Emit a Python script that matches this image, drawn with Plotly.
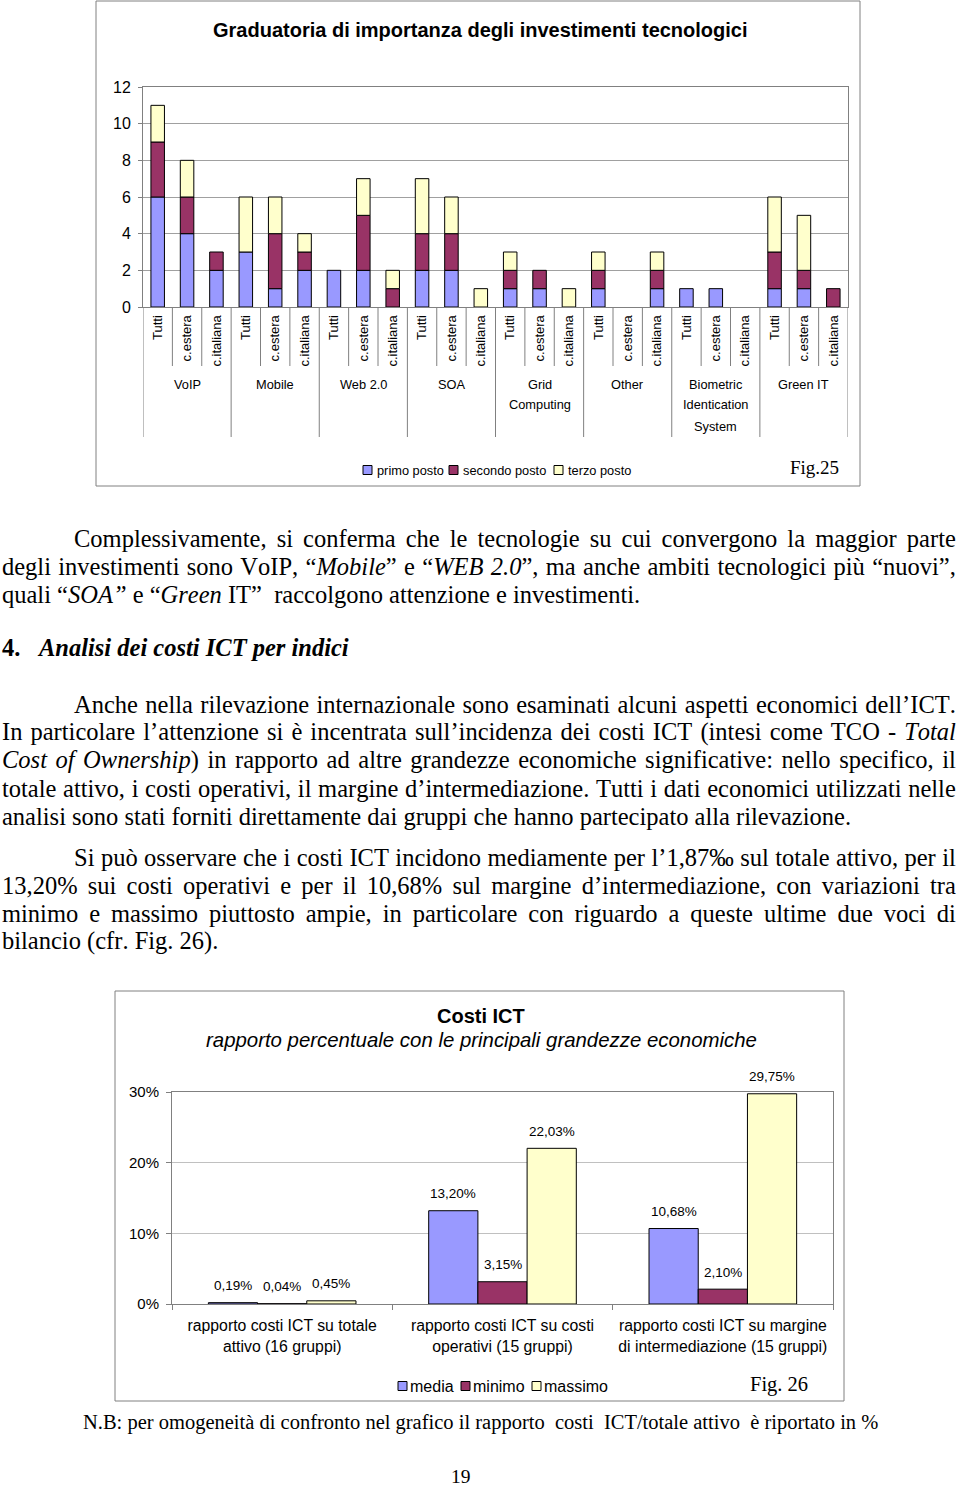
import plotly.graph_objects as go

W, H = 960, 1489


def px(x):
    return x / W


def py(y):
    return 1 - y / H


# ---------------- Fig. 25 data ----------------
tech_groups = ["VoIP", "Mobile", "Web 2.0", "SOA", "Grid<br>Computing", "Other",
               "Biometric<br>Identication<br>System", "Green IT"]
sub_labels = ["Tutti", "c.estera", "c.italiana"]
primo_posto = [6, 4, 2, 3, 1, 2, 2, 2, 0, 2, 2, 0, 1, 1, 0, 1, 0, 1, 1, 1, 0, 1, 1, 0]
secondo_posto = [3, 2, 1, 0, 3, 1, 0, 3, 1, 2, 2, 0, 1, 1, 0, 1, 0, 1, 0, 0, 0, 2, 1, 1]
terzo_posto = [2, 2, 0, 3, 2, 1, 0, 2, 1, 3, 2, 1, 1, 0, 1, 1, 0, 1, 0, 0, 0, 3, 3, 0]
rank_names = ["primo posto", "secondo posto", "terzo posto"]
y1_ticks = [0, 2, 4, 6, 8, 10, 12]

# ---------------- Fig. 26 data ----------------
ratio_labels = ["rapporto costi ICT su totale<br>attivo (16 gruppi)",
                "rapporto costi ICT su costi<br>operativi (15 gruppi)",
                "rapporto costi ICT su margine<br>di intermediazione (15 gruppi)"]
media = [0.19, 13.20, 10.68]
minimo = [0.04, 3.15, 2.10]
massimo = [0.45, 22.03, 29.75]
stat_names = ["media", "minimo", "massimo"]
y2_ticks = [0, 10, 20, 30]

BLUE, MAROON, YELLOW = "#9999FF", "#993366", "#FFFFCC"
COLORS = [BLUE, MAROON, YELLOW]
SANS = "Liberation Sans"
SERIF = "Liberation Serif"
GRAY = "#808080"

fig = go.Figure()

# ---- chart 1 (stacked via explicit bases) ----
n1 = len(primo_posto)
x1 = list(range(n1))
base_sec = primo_posto
base_ter = [a + b for a, b in zip(primo_posto, secondo_posto)]
for name, vals, base, col in zip(rank_names, [primo_posto, secondo_posto, terzo_posto],
                                 [None, base_sec, base_ter], COLORS):
    fig.add_trace(go.Bar(
        x=x1, y=[v if v else None for v in vals], base=base, name=name, offsetgroup="rank",
        width=0.46, offset=-0.23, showlegend=False,
        marker=dict(color=col, line=dict(color="black", width=1)),
        xaxis="x", yaxis="y"))

# ---- chart 2 (grouped) ----
x2 = list(range(len(media)))
for name, vals, col in zip(stat_names, [media, minimo, massimo], COLORS):
    fig.add_trace(go.Bar(
        x=x2, y=vals, name=name, showlegend=False,
        marker=dict(color=col, line=dict(color="black", width=1)),
        xaxis="x2", yaxis="y2"))

BARGAP2 = 0.33
bw = (1 - BARGAP2) / 3
annotations = []
for k, vals in enumerate([media, minimo, massimo]):
    for i, v in enumerate(vals):
        annotations.append(dict(
            x=i + (k - 1) * bw, y=v, xref="x2", yref="y2",
            text=f"{v:.2f}".replace(".", ",") + "%", showarrow=False,
            xanchor="center", yanchor="middle", yshift=17, font=dict(family=SANS, size=13.5)))

# group labels chart 1 (one annotation per text line)
for g, lab in enumerate(tech_groups):
    for j, part in enumerate(lab.split("<br>")):
        annotations.append(dict(
            x=3 * g + 1, y=py(384 + 21 * j), xref="x", yref="paper", text=part,
            showarrow=False, xanchor="center", yanchor="middle",
            font=dict(family=SANS, size=12.8)))


def ann(x, y, text, size, family=SANS, xanchor="center"):
    return dict(x=px(x), y=py(y), xref="paper", yref="paper", showarrow=False,
                xanchor=xanchor, yanchor="middle", text=text,
                font=dict(family=family, size=size, color="black"))


annotations += [
    ann(480, 30, "<b>Graduatoria di importanza degli investimenti tecnologici</b>", 20),
    ann(814, 467, "Fig.25", 19, SERIF),
    ann(481, 1016, "<b>Costi ICT</b>", 20),
    ann(481, 1040, "<i>rapporto percentuale con le principali grandezze economiche</i>", 20.4),
    ann(779, 1384, "Fig. 26", 20.5, SERIF),
]

shapes = []

# custom legends
legend1_x = [363, 449, 554]
legend2_x = [398, 461, 532]
for names, xs, yc, sq, gap, fsize in [(rank_names, legend1_x, 470, 9, 14, 12.8),
                                       (stat_names, legend2_x, 1386, 9, 12, 16)]:
    for name, xl, col in zip(names, xs, COLORS):
        shapes.append(dict(type="rect", xref="paper", yref="paper",
                           x0=px(xl), x1=px(xl + sq), y0=py(yc - sq / 2), y1=py(yc + sq / 2),
                           fillcolor=col, line=dict(color="black", width=1)))
        annotations.append(ann(xl + gap - 2, yc, name, fsize, SANS, "left"))

# ---------------- body text ----------------
ROMAN = {' ': 250, '!': 333, '%': 833, '(': 333, ')': 333, ',': 250, '-': 333, '.': 250,
         '/': 278, ':': 278, ';': 278,
         'A': 722, 'B': 667, 'C': 667, 'D': 722, 'E': 611, 'F': 556, 'G': 722, 'H': 722,
         'I': 333, 'J': 389, 'K': 722, 'L': 611, 'M': 889, 'N': 722, 'O': 722, 'P': 556,
         'Q': 722, 'R': 667, 'S': 556, 'T': 611, 'U': 722, 'V': 722, 'W': 944, 'X': 722,
         'Y': 722, 'Z': 611,
         'a': 444, 'b': 500, 'c': 444, 'd': 500, 'e': 444, 'f': 333, 'g': 500, 'h': 500,
         'i': 278, 'j': 278, 'k': 500, 'l': 278, 'm': 778, 'n': 500, 'o': 500, 'p': 500,
         'q': 500, 'r': 333, 's': 389, 't': 278, 'u': 500, 'v': 500, 'w': 722, 'x': 500,
         'y': 500, 'z': 444,
         '“': 444, '”': 444, '’': 333, '‘': 333, '‰': 1000, 'è': 444, 'é': 444, 'à': 444,
         'ù': 500, 'ò': 500, 'ì': 278}
ITALIC = {' ': 250, ',': 250, '.': 250, '-': 333, 'A': 611, 'B': 611, 'C': 667, 'E': 611,
          'G': 722, 'M': 833, 'O': 722, 'S': 500, 'T': 556, 'W': 833,
          'a': 500, 'b': 500, 'c': 444, 'd': 500, 'e': 444, 'f': 278, 'g': 500, 'h': 500,
          'i': 278, 'l': 278, 'm': 722, 'n': 500, 'o': 500, 'p': 500, 'r': 389, 's': 389,
          't': 278, 'u': 500, 'v': 444, 'w': 667, 'y': 444, 'z': 389, '“': 556, '”': 556}
for d in "0123456789":
    ROMAN[d] = 500
    ITALIC[d] = 500

BODY = 24.5
RIGHT = 957


def seg_w(t, it):
    tbl = ITALIC if it else ROMAN
    return sum(tbl.get(c, 500) for c in t) * BODY / 1000


def build(segs, x0, justify):
    ws = 0
    if justify:
        nat = sum(seg_w(t, it) for t, it in segs)
        nsp = sum(t.count(" ") for t, it in segs)
        ws = (RIGHT - x0 - nat) / max(nsp, 1)
    out = []
    for t, it in segs:
        st = f"word-spacing:{ws:.2f}px;font-kerning:none"
        if it:
            st += ";font-style:italic"
        out.append(f'<span style="{st}">{t}</span>')
    return "".join(out)


R, I = False, True
body_lines = [
    (75, 538, True, [("Complessivamente, si conferma che le tecnologie su cui convergono la maggior parte", R)]),
    (3, 566, True, [("degli investimenti sono VoIP, “", R), ("Mobile", I), ("” e “", R), ("WEB 2.0", I),
                    ("”, ma anche ambiti tecnologici più “nuovi”,", R)]),
    (3, 594, False, [("quali “", R), ("SOA”", I), (" e “", R), ("Green", I),
                     (" IT”\u00a0 raccolgono attenzione e investimenti.", R)]),
    (75, 704, True, [("Anche nella rilevazione internazionale sono esaminati alcuni aspetti economici dell’ICT.", R)]),
    (3, 732, True, [("In particolare l’attenzione si è incentrata sull’incidenza dei costi ICT (intesi come TCO - ", R),
                    ("Total", I)]),
    (3, 760, True, [("Cost of Ownership", I),
                    (") in rapporto ad altre grandezze economiche significative: nello specifico, il", R)]),
    (3, 788, True, [("totale attivo, i costi operativi, il margine d’intermediazione. Tutti i dati economici utilizzati nelle", R)]),
    (3, 816, False, [("analisi sono stati forniti direttamente dai gruppi che hanno partecipato alla rilevazione.", R)]),
    (75, 857, True, [("Si può osservare che i costi ICT incidono mediamente per l’1,87‰ sul totale attivo, per il", R)]),
    (3, 885, True, [("13,20% sui costi operativi e per il 10,68% sul margine d’intermediazione, con variazioni tra", R)]),
    (3, 913, True, [("minimo e massimo piuttosto ampie, in particolare con riguardo a queste ultime due voci di", R)]),
    (3, 941, False, [("bilancio (cfr. Fig. 26).", R)]),
]
for x0, yc, just, segs in body_lines:
    annotations.append(ann(x0 - 3, yc, build(segs, x0, just), BODY, SERIF, "left"))

annotations += [
    ann(0, 647, "<b>4.</b>", BODY, SERIF, "left"),
    ann(35, 647, "<b><i>Analisi dei costi ICT per indici</i></b>", BODY, SERIF, "left"),
    ann(480, 1422,
        "N.B: per omogeneità di confronto nel grafico il rapporto\u00a0 costi\u00a0 ICT/totale attivo\u00a0 è riportato in %",
        20.5, SERIF),
]
page_num = dict(x=px(461), y=py(1488), xref="paper", yref="paper", showarrow=False,
                xanchor="center", yanchor="bottom", borderpad=0, text="19",
                font=dict(family=SERIF, size=19.5, color="black"))
annotations.append(page_num)

# ---------------- frames & category dividers ----------------
shapes += [
    dict(type="rect", xref="paper", yref="paper", x0=px(96), x1=px(860), y0=py(1), y1=py(486),
         line=dict(color=GRAY, width=1)),
    dict(type="rect", xref="paper", yref="paper", x0=px(115), x1=px(844), y0=py(991), y1=py(1401),
         line=dict(color=GRAY, width=1)),
]
for i in range(n1 + 1):
    xb = i - 0.5
    bottom = 437 if i % 3 == 0 else 366
    shapes.append(dict(type="line", xref="x", yref="paper", x0=xb, x1=xb, y0=py(307), y1=py(bottom),
                       line=dict(color=GRAY, width=1)))

fig.update_layout(
    width=W, height=H, autosize=False,
    margin=dict(l=0, r=0, t=0, b=0, pad=0),
    paper_bgcolor="white", plot_bgcolor="white",
    font=dict(family=SANS, color="black"),
    barmode="group", bargap=BARGAP2, bargroupgap=0,
    hovermode=False,
    showlegend=False,
    xaxis=dict(domain=[px(143), px(848)], range=[-0.5, n1 - 0.5], anchor="y", automargin=False,
               tickmode="array", tickvals=x1, ticktext=sub_labels * len(tech_groups),
               tickangle=-90, tickfont=dict(family=SANS, size=13), ticks="", ticklabelstandoff=2,
               showline=True, linecolor=GRAY, mirror=True, showgrid=False, zeroline=False),
    yaxis=dict(domain=[py(307), py(87)], range=[0, 12], anchor="x", automargin=False,
               tickmode="array", tickvals=y1_ticks, tickfont=dict(family=SANS, size=16),
               ticks="outside", ticklen=4, tickcolor=GRAY, ticklabelstandoff=4,
               showline=True, linecolor=GRAY, mirror=True,
               showgrid=True, gridcolor="#A0A0A0", zeroline=False),
    xaxis2=dict(domain=[px(172), px(833)], range=[-0.5, len(media) - 0.5], anchor="y2",
                automargin=False,
                tickmode="array", tickvals=x2, ticktext=ratio_labels,
                tickfont=dict(family=SANS, size=15.8), ticks="", ticklabelstandoff=7,
                minor=dict(tickmode="array", tickvals=[-0.5, 0.5, 1.5, 2.5], ticks="outside",
                           ticklen=5, tickcolor=GRAY),
                showline=True, linecolor=GRAY, mirror=True, showgrid=False, zeroline=False),
    yaxis2=dict(domain=[py(1304), py(1092)], range=[0, 30], anchor="x2", automargin=False,
                tickmode="array", tickvals=y2_ticks, ticktext=[f"{t}%" for t in y2_ticks],
                tickfont=dict(family=SANS, size=15),
                ticks="outside", ticklen=5, tickcolor=GRAY, ticklabelstandoff=4,
                showline=True, linecolor=GRAY, mirror=True,
                showgrid=True, gridcolor="#C0C0C0", zeroline=False),
    annotations=annotations,
    shapes=shapes,
)

fig.write_html("out.html")
